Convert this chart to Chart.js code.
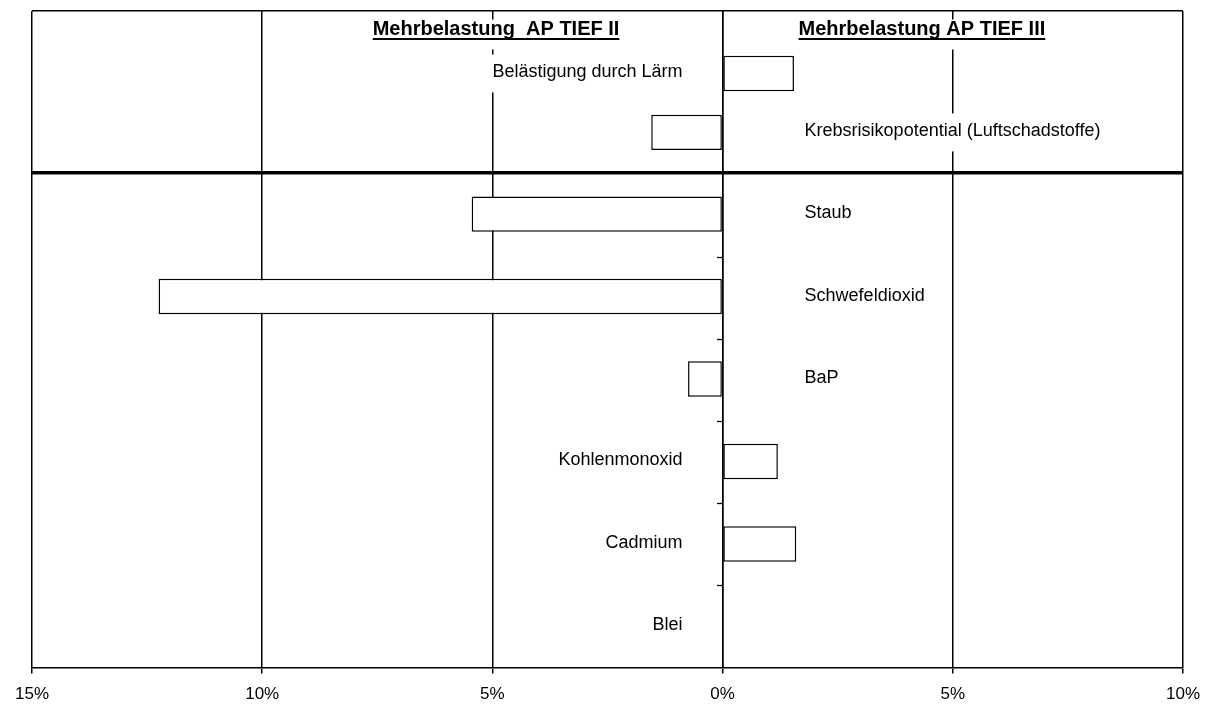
<!DOCTYPE html>
<html lang="de">
<head>
<meta charset="utf-8">
<title>Mehrbelastung AP TIEF II / AP TIEF III</title>
<script src="https://cdn.jsdelivr.net/npm/chart.js@4.4.0/dist/chart.umd.min.js"></script>
<style>
    html, body { margin: 0; padding: 0; background: #fff; }
    .chart-box { position: relative; width: 1211px; height: 705px; }
</style>
</head>
<body>
<div class="chart-box"><canvas id="chart"></canvas></div>
<script>
const topCategories = ['Belästigung durch Lärm', 'Krebsrisikopotential (Luftschadstoffe)'];
const topValues = [1.55, -1.55];
const bottomCategories = ['Staub', 'Schwefeldioxid', 'BaP', 'Kohlenmonoxid', 'Cadmium', 'Blei'];
const bottomValues = [-5.45, -12.25, -0.75, 1.2, 1.6, 0];
const titles = ['Mehrbelastung  AP TIEF II', 'Mehrbelastung AP TIEF III'];
const xRange = [-15, 10];
const xStep = 5;

const fontFamily = '"Liberation Sans", Arial, sans-serif';
const clear = 'rgba(0,0,0,0)';

// labels next to the bars (opposite side of the 0 line) and the two headings
const labelPlugin = {
    id: 'barLabels',
    beforeDatasetsDraw(chart) {
        const ctx = chart.ctx;
        const xScale = chart.scales.x;
        const zero = xScale.getPixelForValue(0);

        ctx.save();
        ctx.font = '18px ' + fontFamily;
        ctx.textBaseline = 'middle';
        chart.data.datasets.forEach((ds, d) => {
            const names = d === 0 ? topCategories : bottomCategories;
            chart.getDatasetMeta(d).data.forEach((bar, i) => {
                const text = names[i];
                const w = ctx.measureText(text).width;
                const onRight = ds.data[i] < 0;
                const tx = onRight ? zero + 82 : zero - 40;
                const left = onRight ? tx : tx - w;
                ctx.fillStyle = '#fff';
                ctx.fillRect(left - 4, bar.y - 19, w + 8, 38);
                ctx.fillStyle = '#000';
                ctx.textAlign = onRight ? 'left' : 'right';
                ctx.fillText(text, tx, bar.y - 1);
            });
        });

        ctx.font = 'bold 20px ' + fontFamily;
        ctx.textBaseline = 'alphabetic';
        ctx.textAlign = 'left';
        const anchors = [-7.6, 1.65];
        const baseline = chart.chartArea.top + 23.5;
        titles.forEach((text, i) => {
            const tx = xScale.getPixelForValue(anchors[i]);
            const w = ctx.measureText(text).width;
            ctx.fillStyle = '#fff';
            ctx.fillRect(tx - 4, baseline - 15, w + 8, 30);
            ctx.fillStyle = '#000';
            ctx.fillText(text, tx, baseline);
            ctx.beginPath();
            ctx.lineWidth = 1.8;
            ctx.strokeStyle = '#000';
            ctx.moveTo(tx, baseline + 4.5);
            ctx.lineTo(tx + w, baseline + 4.5);
            ctx.stroke();
        });
        ctx.restore();
    }
};

// stacked left axes only split the height into blocks; nothing of them is visible
// except the top frame (yHead) and the thick separator (yBottom)
function blockAxis(labels, weight, stackWeight, lineIndex, lineWidth) {
    return {
        type: 'category',
        labels: labels,
        position: 'left',
        stack: 'rows',
        stackWeight: stackWeight,
        weight: weight,
        offset: true,
        ticks: {display: false},
        border: {display: false},
        grid: {
            offset: true,
            drawTicks: false,
            color: c => c.index === lineIndex ? '#000' : clear,
            lineWidth: lineWidth
        }
    };
}

new Chart(document.getElementById('chart'), {
    type: 'bar',
    data: {
        datasets: [{
            data: topValues,
            yAxisID: 'yTop',
            grouped: false,
            backgroundColor: '#fff',
            borderColor: '#000',
            borderWidth: 1.5,
            borderSkipped: false,
            categoryPercentage: 1,
            barPercentage: 0.6
        }, {
            data: bottomValues,
            yAxisID: 'yBottom',
            grouped: false,
            backgroundColor: '#fff',
            borderColor: '#000',
            borderWidth: 1.5,
            borderSkipped: false,
            categoryPercentage: 1,
            barPercentage: 0.43
        }]
    },
    options: {
        indexAxis: 'y',
        responsive: true,
        maintainAspectRatio: false,
        animation: false,
        layout: {
            padding: {top: 11, left: 32, right: 28, bottom: -11}
        },
        plugins: {
            legend: {display: false},
            tooltip: {enabled: false}
        },
        scales: {
            x: {
                min: xRange[0],
                max: xRange[1],
                ticks: {
                    stepSize: xStep,
                    color: '#000',
                    padding: 11,
                    font: {family: fontFamily, size: 17},
                    callback: v => Math.abs(v) + '%'
                },
                grid: {
                    color: '#000',
                    lineWidth: 1.5,
                    tickLength: 6,
                    tickColor: '#000'
                },
                border: {color: '#000', width: 1.5}
            },
            yHead: blockAxis([''], 4, 33, 0, 1.5),
            yTop: blockAxis(topCategories, 3, 118, -1, 1),
            yGap: blockAxis([''], 2, 11, -1, 1),
            yBottom: blockAxis(bottomCategories, 1, 495, 0, 3.5),
            // the 0 line with its small tick marks
            yZero: {
                type: 'category',
                labels: topCategories.concat(bottomCategories),
                position: {x: 0},
                offset: true,
                ticks: {display: false},
                grid: {
                    offset: true,
                    drawOnChartArea: false,
                    tickLength: 5,
                    tickColor: c => (c.index >= 3 && c.index <= 7) ? '#000' : clear,
                    tickWidth: 1.3
                },
                border: {color: '#000', width: 1.5}
            }
        }
    },
    plugins: [labelPlugin]
});
</script>
</body>
</html>
